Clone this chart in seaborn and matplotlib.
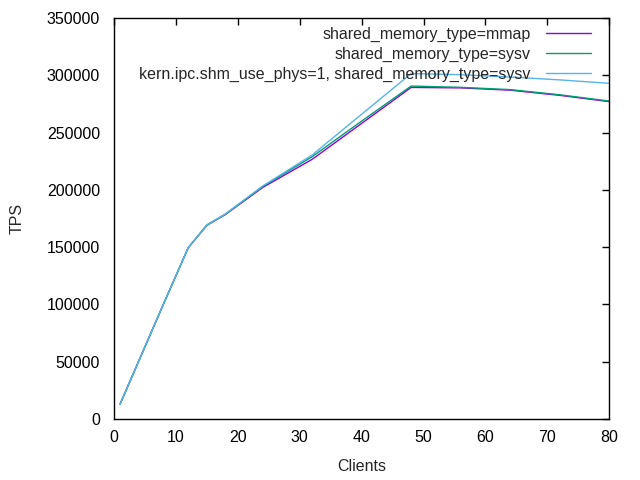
import pandas as pd
import matplotlib
matplotlib.use("Agg")
import matplotlib.pyplot as plt
import seaborn as sns

# values
clients = [1, 4, 8, 12, 15, 18, 24, 32, 40, 48, 56, 64, 72, 80]
tps_mmap = [13100, 50500, 100300, 149500, 169000, 178500, 202000, 226600, 258000, 289400,
            289000, 287000, 282500, 277000]
tps_sysv = [13100, 50500, 100300, 149500, 169300, 178800, 202800, 228900, 260000, 290600,
            289500, 287500, 283000, 277500]
tps_phys = [13100, 50500, 100300, 149500, 169300, 179000, 203300, 230400, 266000, 301500,
            300500, 298500, 296000, 293000]

labels = ["shared_memory_type=mmap",
          "shared_memory_type=sysv",
          "kern.ipc.shm_use_phys=1, shared_memory_type=sysv"]
colors = ["#9400d3", "#009e73", "#56b4e9"]

df = pd.concat([
    pd.DataFrame({"Clients": clients, "TPS": tps_mmap, "config": labels[0]}),
    pd.DataFrame({"Clients": clients, "TPS": tps_sysv, "config": labels[1]}),
    pd.DataFrame({"Clients": clients, "TPS": tps_phys, "config": labels[2]}),
])

sns.set_style("white")
plt.rcParams["font.family"] = ["Liberation Sans", "DejaVu Sans"]
fs = 11.5

fig = plt.figure(figsize=(6.4, 4.8), dpi=100)
ax = fig.add_axes([0.178, 0.127, 0.774, 0.8355])

sns.lineplot(data=df, x="Clients", y="TPS", hue="config", palette=colors,
             linewidth=1.0, ax=ax, sort=False)

ax.set_xlim(0, 80)
ax.set_ylim(0, 350000)
ax.set_xticks(range(0, 81, 10))
ax.set_yticks(range(0, 350001, 50000))
ax.tick_params(direction="in", length=5, width=1, top=True, right=True,
               labelsize=fs, colors="black")
ax.tick_params(axis="y", pad=10)
ax.tick_params(axis="x", pad=8)
for s in ax.spines.values():
    s.set_color("black")
    s.set_linewidth(1)
ax.set_xlabel("Clients", fontsize=fs, labelpad=10)
ax.set_ylabel("TPS", fontsize=fs, labelpad=16)

leg = ax.legend(loc="upper right", bbox_to_anchor=(0.975, 0.995), frameon=False,
                markerfirst=False, fontsize=fs, handlelength=2.8,
                labelspacing=0.32, borderaxespad=0, handletextpad=0.95)
for t in leg.get_texts():
    t.set_ha("right")
leg._legend_box.align = "right"

fig.savefig("out.png", dpi=100)
